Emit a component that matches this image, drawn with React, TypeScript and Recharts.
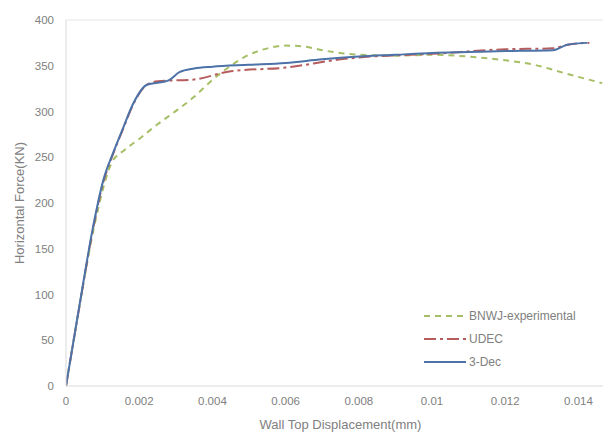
import React from "react";
import { LineChart, Line, XAxis, YAxis } from "recharts";

const xTicks = [0, 0.002, 0.004, 0.006, 0.008, 0.01, 0.012, 0.014];
const xTickLabels = ["0", "0.002", "0.004", "0.006", "0.008", "0.01", "0.012", "0.014"];
const yTicks = [0, 50, 100, 150, 200, 250, 300, 350, 400];

const bnwjDisp = [0, 0.0004, 0.0008, 0.00125, 0.0016, 0.002, 0.0025, 0.00305, 0.0035, 0.0039, 0.0045, 0.005, 0.0055, 0.006, 0.0065, 0.007, 0.008, 0.009, 0.01, 0.011, 0.012, 0.0128, 0.0137, 0.01465];
const bnwjForce = [0, 95, 180, 244, 258, 270, 286, 302, 316, 331, 350, 362, 369, 372, 371, 367, 362, 361, 362, 360, 356, 351, 341, 331];

const udecDisp = [0, 0.00038, 0.00074, 0.00102, 0.00129, 0.00157, 0.00184, 0.0022, 0.0025, 0.0035, 0.0045, 0.006, 0.0075, 0.008, 0.01, 0.012, 0.0133, 0.0137, 0.0143];
const udecForce = [0, 90, 172, 223, 254, 282, 308, 329, 333, 335, 344, 348, 357, 359, 363, 368, 369, 373, 375];

const decDisp = [0, 0.00038, 0.00074, 0.00102, 0.00129, 0.00157, 0.00184, 0.0022, 0.0028, 0.0031, 0.0035, 0.004, 0.005, 0.006, 0.007, 0.008, 0.009, 0.01, 0.011, 0.012, 0.0133, 0.0137, 0.01425];
const decForce = [0, 91, 174, 225, 255, 283, 309, 329, 334, 343, 347, 349, 351, 353, 357, 360, 362, 364, 365, 366, 367, 373, 375];

const seriesNames = ["BNWJ-experimental", "UDEC", "3-Dec"];

const toData = (xs: number[], ys: number[]) => xs.map((x, i) => ({ x, y: ys[i] }));
const bnwjData = toData(bnwjDisp, bnwjForce);
const udecData = toData(udecDisp, udecForce);
const decData = toData(decDisp, decForce);

const FONT = "'Liberation Sans', Arial, sans-serif";
const TEXT = "#808080";

const colors = ["#a6bf66", "#b75c5c", "#4c72a8"];
const dashes = ["6 5", "12 4 3 4", ""];

export default function App() {
  return (
    <div style={{ position: "absolute", left: 0, top: 0, width: 603, height: 434, background: "#fff" }}>
      <LineChart width={603} height={434} margin={{ top: 20, right: 0, left: 0, bottom: 0 }}>
        <XAxis
          type="number"
          dataKey="x"
          domain={[0, 0.01467]}
          ticks={xTicks}
          tickFormatter={(v: number) => xTickLabels[xTicks.findIndex((t) => Math.abs(t - v) < 1e-9)] ?? String(v)}
          allowDataOverflow
          height={48}
          tickSize={0}
          tickMargin={11}
          stroke="#d9d9d9"
          tick={{ fill: TEXT, fontSize: 11.5, fontFamily: FONT }}
          label={{ value: "Wall Top Displacement(mm)", position: "insideBottom", offset: 5, dx: 6, fill: TEXT, fontSize: 13, fontFamily: FONT }}
        />
        <YAxis
          type="number"
          dataKey="y"
          domain={[0, 400]}
          ticks={yTicks}
          width={66}
          tickSize={0}
          tickMargin={12}
          stroke="#d9d9d9"
          tick={{ fill: TEXT, fontSize: 11.5, fontFamily: FONT }}
          label={{ value: "Horizontal Force(KN)", angle: -90, position: "center", dx: -14, fill: TEXT, fontSize: 13, fontFamily: FONT }}
        />
        <Line
          data={[{ x: 0, y: 400 }, { x: 0.01467, y: 400 }]}
          dataKey="y"
          stroke="#e6e6e6"
          strokeWidth={1}
          dot={false}
          legendType="none"
          isAnimationActive={false}
        />
        <Line data={bnwjData} dataKey="y" name={seriesNames[0]} type="monotone" stroke={colors[0]} strokeWidth={2} strokeDasharray={dashes[0]} dot={false} isAnimationActive={false} />
        <Line data={udecData} dataKey="y" name={seriesNames[1]} type="monotone" stroke={colors[1]} strokeWidth={2} strokeDasharray={dashes[1]} dot={false} isAnimationActive={false} />
        <Line data={decData} dataKey="y" name={seriesNames[2]} type="monotone" stroke={colors[2]} strokeWidth={2} dot={false} isAnimationActive={false} />
      </LineChart>
      <div style={{ position: "absolute", left: 424, top: 304, fontFamily: FONT, fontSize: 12, color: TEXT }}>
        {seriesNames.map((name, i) => (
          <div key={name} style={{ display: "flex", alignItems: "center", height: 23 }}>
            <svg width={42} height={6} style={{ marginRight: 3 }}>
              <line x1={0} y1={3} x2={42} y2={3} stroke={colors[i]} strokeWidth={2} strokeDasharray={dashes[i]} />
            </svg>
            <span>{name}</span>
          </div>
        ))}
      </div>
    </div>
  );
}
